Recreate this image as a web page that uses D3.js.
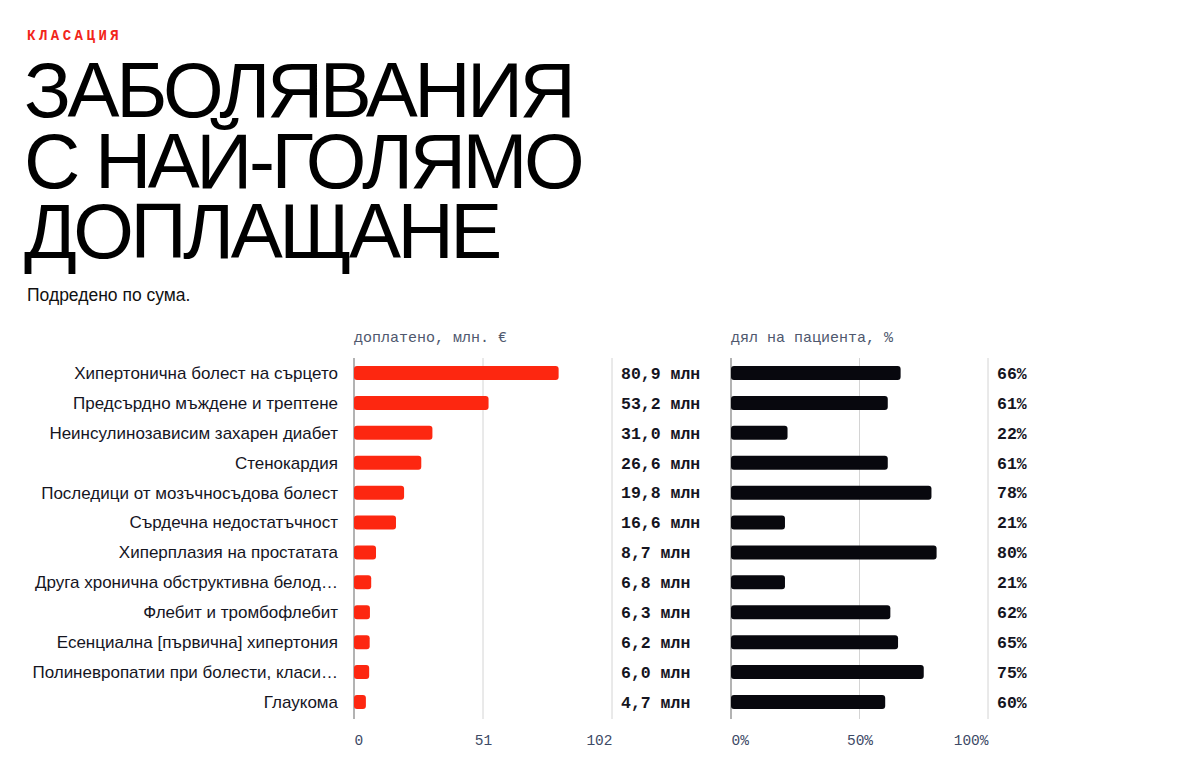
<!DOCTYPE html>
<html lang="bg">
<head>
    <meta charset="utf-8">
    <title>Заболявания с най-голямо доплащане</title>
    <script type="text/javascript" src="https://d3js.org/d3.v7.min.js"></script>
    <style>
        body { margin: 0; background: #fff; }
        .kicker { font-family: "Liberation Mono", monospace; font-weight: bold; font-size: 14px; letter-spacing: 3.5px; fill: #f2251b; }
        .title { font-family: "Liberation Sans", Arial, sans-serif; font-size: 78px; letter-spacing: -3.5px; fill: #000; }
        .subtitle { font-family: "Liberation Sans", Arial, sans-serif; font-size: 17.5px; fill: #111; }
        .rowlabel { font-family: "Liberation Sans", Arial, sans-serif; font-size: 17px; fill: #15151f; }
        .header { font-family: "Liberation Mono", monospace; font-size: 15px; fill: #4f586e; }
        .tick text { font-family: "Liberation Mono", monospace; font-size: 14.5px; fill: #3d4a66; }
        .value { font-family: "Liberation Mono", monospace; font-weight: bold; font-size: 16.5px; fill: #15151f; }
    </style>
</head>
<body>
<div id="container"></div>
<script type="text/javascript">
    const w = 1198;
    const h = 771;

    const labels = [
        "Хипертонична болест на сърцето",
        "Предсърдно мъждене и трептене",
        "Неинсулинозависим захарен диабет",
        "Стенокардия",
        "Последици от мозъчносъдова болест",
        "Сърдечна недостатъчност",
        "Хиперплазия на простатата",
        "Друга хронична обструктивна белод…",
        "Флебит и тромбофлебит",
        "Есенциална [първична] хипертония",
        "Полиневропатии при болести, класи…",
        "Глаукома"
    ];
    const amounts = [80.9, 53.2, 31.0, 26.6, 19.8, 16.6, 8.7, 6.8, 6.3, 6.2, 6.0, 4.7];
    const shares = [66, 61, 22, 61, 78, 21, 80, 21, 62, 65, 75, 60];
    const amountTicks = [0, 51, 102];
    const shareTicks = [0, 50, 100];
    const titleLines = ["ЗАБОЛЯВАНИЯ", "С НАЙ-ГОЛЯМО", "ДОПЛАЩАНЕ"];

    const svg = d3.select("div#container").append("svg")
        .attr("width", w)
        .attr("height", h)
        .attr("viewBox", "0 0 " + w + " " + h);

    // heading
    svg.append("text").attr("class", "kicker").attr("x", 27).attr("y", 40).text("КЛАСАЦИЯ");
    const title = svg.append("text")
        .attr("class", "title")
        .attr("x", 24)
        .attr("y", 117);
    title.selectAll("tspan")
        .data(titleLines)
        .enter()
        .append("tspan")
        .attr("x", 24)
        .attr("dy", (d, i) => i === 0 ? 0 : 70.5)
        .text(d => d);
    svg.append("text").attr("class", "subtitle").attr("x", 27).attr("y", 301).text("Подредено по сума.");

    // scales
    const y = d3.scalePoint().domain(labels).range([373, 702]);
    const xAmount = d3.scaleLinear().domain([0, 102]).range([354, 612]);
    const xShare = d3.scaleLinear().domain([0, 100]).range([731, 988]);
    const barH = 14;
    const gridTop = 358, gridBottom = 719;

    // column headers
    svg.append("text").attr("class", "header").attr("x", xAmount(0)).attr("y", 342).text("доплатено, млн. €");
    svg.append("text").attr("class", "header").attr("x", xShare(0)).attr("y", 342).text("дял на пациента, %");

    // grid + axes
    function drawAxis(scale, ticks, fmt) {
        const g = svg.append("g");
        g.selectAll("line")
            .data(ticks)
            .enter()
            .append("line")
            .attr("x1", d => scale(d)).attr("x2", d => scale(d))
            .attr("y1", gridTop).attr("y2", gridBottom)
            .attr("stroke", d => d === 0 ? "#8a8a8a" : "#d4d4d4")
            .attr("stroke-width", d => d === 0 ? 1.3 : 1);
        const axis = d3.axisBottom(scale).tickValues(ticks).tickFormat(fmt).tickSize(0).tickPadding(0);
        const ag = svg.append("g")
            .attr("class", "axis")
            .attr("transform", "translate(0," + 745 + ")")
            .call(axis);
        ag.select(".domain").remove();
        ag.selectAll(".tick text")
            .attr("text-anchor", (d, i) => i === 0 ? "start" : (i === ticks.length - 1 ? "end" : "middle"))
            .attr("dy", 0);
    }
    drawAxis(xAmount, amountTicks, d => d);
    drawAxis(xShare, shareTicks, d => d + "%");

    // row labels
    svg.selectAll("text.rowlabel")
        .data(labels)
        .enter()
        .append("text")
        .attr("class", "rowlabel")
        .attr("x", 338)
        .attr("y", d => y(d))
        .attr("dy", "0.35em")
        .attr("text-anchor", "end")
        .text(d => d);

    // amount bars
    svg.selectAll("rect.amount")
        .data(amounts)
        .enter()
        .append("rect")
        .attr("class", "amount")
        .attr("x", xAmount(0))
        .attr("y", (d, i) => y(labels[i]) - barH / 2)
        .attr("width", d => xAmount(d) - xAmount(0))
        .attr("height", barH)
        .attr("rx", 3)
        .attr("fill", "#fd2710");

    svg.selectAll("text.amountval")
        .data(amounts)
        .enter()
        .append("text")
        .attr("class", "value")
        .attr("x", xAmount(102) + 9)
        .attr("y", (d, i) => y(labels[i]))
        .attr("dy", "0.35em")
        .text(d => d.toFixed(1).replace(".", ",") + " млн");

    // share bars
    svg.selectAll("rect.share")
        .data(shares)
        .enter()
        .append("rect")
        .attr("class", "share")
        .attr("x", xShare(0))
        .attr("y", (d, i) => y(labels[i]) - barH / 2)
        .attr("width", d => xShare(d) - xShare(0))
        .attr("height", barH)
        .attr("rx", 3)
        .attr("fill", "#08080e");

    svg.selectAll("text.shareval")
        .data(shares)
        .enter()
        .append("text")
        .attr("class", "value")
        .attr("x", xShare(100) + 9)
        .attr("y", (d, i) => y(labels[i]))
        .attr("dy", "0.35em")
        .text(d => d + "%");
</script>
</body>
</html>
